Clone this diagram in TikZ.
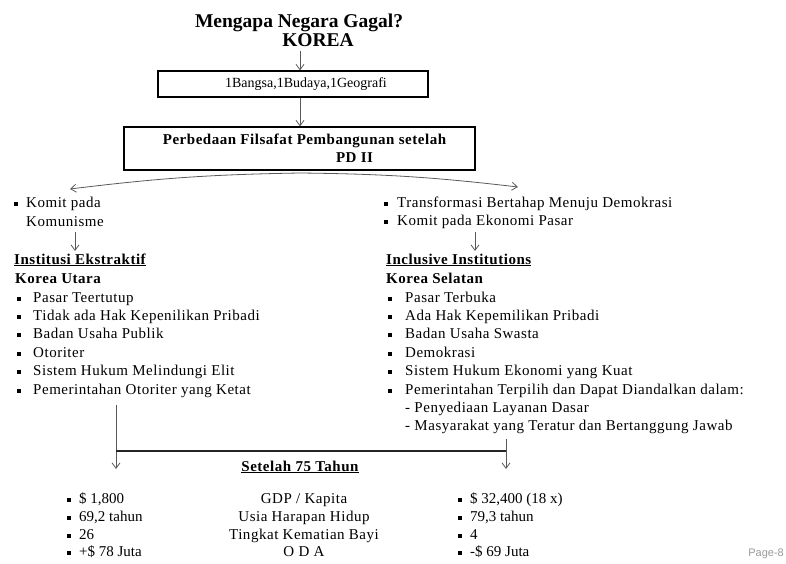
\documentclass[tikz,border=0pt]{standalone}
\usepackage{fontspec}
\setmainfont{Liberation Serif}
\newfontfamily\widefont[LetterSpace=3.5]{Liberation Serif}
\newfontfamily\pagefont{Liberation Sans}
\usetikzlibrary{arrows.meta}
\newcommand{\sqitem}[1]{\makebox[#1][l]{\rule[1.5pt]{4pt}{4pt}}}

\begin{document}
\begin{tikzpicture}[x=1pt, y=-1pt,
  every node/.style={inner sep=0pt, font=\widefont\fontsize{15}{18}\selectfont},
  txt/.style={anchor=base west},
  ctr/.style={anchor=base},
  boxed/.style={draw, line width=1.1pt, inner sep=0pt},
  arr/.style={draw=black!65, line width=0.8pt, -{Straight Barb[length=5.5pt,width=8pt]}},
  bar/.style={draw=black!85, line width=1.2pt}]
  \useasboundingbox (0,0) rectangle (786,564);

  \node[ctr, font=\bfseries\fontsize{19.5}{22}\selectfont] (judul) at (299,28) {Mengapa Negara Gagal?};
  \node[ctr, font=\bfseries\fontsize{19.5}{22}\selectfont] (korea) at (318,47) {KOREA};
  \node[boxed, minimum width=270pt, minimum height=26pt, font=\fontsize{14}{16}\selectfont] (sama) at (293,84) {\hspace*{26pt}1Bangsa,1Budaya,1Geografi};
  \node[boxed, minimum width=351pt, minimum height=43pt, align=center, font=\widefont\bfseries\fontsize{15}{18}\selectfont] (beda) at (299.5,148.5) {\hspace*{10pt}Perbedaan Filsafat Pembangunan setelah\\\hspace*{110pt}PD II};

  \coordinate (a1) at (300,51);
  \coordinate (a2) at (300,98);
  \coordinate (pisah) at (300,173);
  \coordinate (kiri) at (70,189);
  \coordinate (kanan) at (518,187);
  \draw[arr] (a1) -- (a1 |- sama.north);
  \draw[arr] (a2) -- (a2 |- beda.north);
  \draw[arr] (pisah) to[bend right=3] (kiri);
  \draw[arr] (pisah) to[bend left=3] (kanan);

  \node[txt] (ku0a) at (14,207) {\sqitem{12pt}Komit pada};
  \node[txt] (ku0b) at (26,226) {Komunisme};
  \node[txt] (ks0a) at (384,207) {\sqitem{13pt}Transformasi Bertahap Menuju Demokrasi};
  \node[txt] (ks0b) at (384,225) {\sqitem{13pt}Komit pada Ekonomi Pasar};

  \coordinate (b1) at (75,232);
  \coordinate (b2) at (475,232);
  \draw[arr] (b1) -- (75,251);
  \draw[arr] (b2) -- (475,251);

  \node[txt, font=\widefont\bfseries\fontsize{15}{18}\selectfont] (ekstr) at (14,264) {\underline{Institusi Ekstraktif}};
  \node[txt, font=\widefont\bfseries\fontsize{15}{18}\selectfont] (utara) at (15,283) {Korea Utara};
  \node[txt] (ku1) at (17,302) {\sqitem{16pt}Pasar Teertutup};
  \node[txt] (ku2) at (17,320.4) {\sqitem{16pt}Tidak ada Hak Kepenilikan Pribadi};
  \node[txt] (ku3) at (17,338.8) {\sqitem{16pt}Badan Usaha Publik};
  \node[txt] (ku4) at (17,357.2) {\sqitem{16pt}Otoriter};
  \node[txt] (ku5) at (17,375.6) {\sqitem{16pt}Sistem Hukum Melindungi Elit};
  \node[txt] (ku6) at (17,394) {\sqitem{16pt}Pemerintahan Otoriter yang Ketat};

  \node[txt, font=\widefont\bfseries\fontsize{15}{18}\selectfont] (inkl) at (386,264) {\underline{Inclusive Institutions}};
  \node[txt, font=\widefont\bfseries\fontsize{15}{18}\selectfont] (selatan) at (386,283) {Korea Selatan};
  \node[txt] (ks1) at (388,302) {\sqitem{17pt}Pasar Terbuka};
  \node[txt] (ks2) at (388,320.4) {\sqitem{17pt}Ada Hak Kepemilikan Pribadi};
  \node[txt] (ks3) at (388,338.8) {\sqitem{17pt}Badan Usaha Swasta};
  \node[txt] (ks4) at (388,357.2) {\sqitem{17pt}Demokrasi};
  \node[txt] (ks5) at (388,375.6) {\sqitem{17pt}Sistem Hukum Ekonomi yang Kuat};
  \node[txt] (ks6) at (388,394) {\sqitem{17pt}Pemerintahan Terpilih dan Dapat Diandalkan dalam:};
  \node[txt] (ks7) at (405,412) {- Penyediaan Layanan Dasar};
  \node[txt] (ks8) at (405,430) {- Masyarakat yang Teratur dan Bertanggung Jawab};

  \coordinate (c1) at (116,405);
  \coordinate (c2) at (506,439);
  \draw[arr] (c1) -- (116,469);
  \draw[arr] (c2) -- (506,469);
  \draw[bar] (116,451) -- (506,451);

  \node[ctr, font=\widefont\bfseries\fontsize{15}{18}\selectfont] (setelah) at (300,471) {\underline{Setelah 75 Tahun}};

  \node[txt, font=\fontsize{15}{18}\selectfont] (kn1) at (67,503) {\sqitem{12pt}\$ 1,800};
  \node[txt, font=\fontsize{15}{18}\selectfont] (kn2) at (67,521) {\sqitem{12pt}69,2 tahun};
  \node[txt, font=\fontsize{15}{18}\selectfont] (kn3) at (67,539) {\sqitem{12pt}26};
  \node[txt, font=\fontsize{15}{18}\selectfont] (kn4) at (67,556) {\sqitem{12pt}+\$ 78 Juta};
  \node[ctr] (ind1) at (304,503) {GDP / Kapita};
  \node[ctr] (ind2) at (304,521) {Usia Harapan Hidup};
  \node[ctr] (ind3) at (304,539) {Tingkat Kematian Bayi};
  \node[ctr] (ind4) at (304,556) {O D A};
  \node[txt, font=\fontsize{15}{18}\selectfont] (ks1b) at (458,503) {\sqitem{12pt}\$ 32,400 (18 x)};
  \node[txt, font=\fontsize{15}{18}\selectfont] (ks2b) at (458,521) {\sqitem{12pt}79,3 tahun};
  \node[txt, font=\fontsize{15}{18}\selectfont] (ks3b) at (458,539) {\sqitem{12pt}4};
  \node[txt, font=\fontsize{15}{18}\selectfont] (ks4b) at (458,556) {\sqitem{12pt}-\$ 69 Juta};

  \node[anchor=base east, text=black!40, font=\pagefont\fontsize{11}{13}\selectfont] (hal) at (784,556) {Page-8};
\end{tikzpicture}
\end{document}
